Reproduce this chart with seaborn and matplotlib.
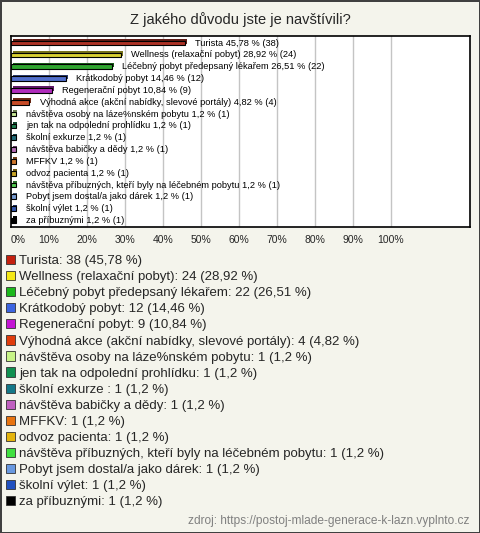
import pandas as pd
import seaborn as sns
import matplotlib.pyplot as plt
import matplotlib.patheffects as pe
from matplotlib.patches import Patch

# data
reasons = ["Turista", "Wellness (relaxační pobyt)", "Léčebný pobyt předepsaný lékařem",
           "Krátkodobý pobyt", "Regenerační pobyt",
           "Výhodná akce (akční nabídky, slevové portály)",
           "návštěva osoby na láze%nském pobytu", "jen tak na odpolední prohlídku",
           "školní exkurze ", "návštěva babičky a dědy", "MFFKV", "odvoz pacienta",
           "návštěva příbuzných, kteří byly na léčebném pobytu",
           "Pobyt jsem dostal/a jako dárek", "školní výlet", "za příbuznými"]
counts = [38, 24, 22, 12, 9, 4, 1, 1, 1, 1, 1, 1, 1, 1, 1, 1]
percents = [45.78, 28.92, 26.51, 14.46, 10.84, 4.82, 1.2, 1.2, 1.2, 1.2, 1.2, 1.2, 1.2, 1.2, 1.2, 1.2]
colors = ["#c4200f", "#f4e816", "#1cb81c", "#3c64e0", "#c414d4", "#e03c0c",
          "#c8f488", "#109050", "#147888", "#c060c0", "#e87410", "#e4b40c",
          "#40e040", "#6898e0", "#2050c0", "#000000"]
ticks = list(range(0, 101, 10))

def fmt(v):
    return ("%g" % v).replace(".", ",")

df = pd.DataFrame({"reason": reasons, "count": counts, "pct": percents})

sns.set_style("white")
plt.rcParams["font.family"] = ["Liberation Sans", "DejaVu Sans"]
bg = "#f4f4ec"

fig = plt.figure(figsize=(4.8, 5.33), dpi=100, facecolor=bg)
fig.patch.set_edgecolor("#404040")
fig.patch.set_linewidth(2)
ax = fig.add_axes([11 / 480, 1 - 227 / 533, 459 / 480, 191 / 533])
ax.set_facecolor("white")

sns.barplot(data=df, y="reason", x="pct", hue="reason", palette=colors,
            orient="h", width=0.4, edgecolor="black", linewidth=0.8,
            legend=False, dodge=False, ax=ax, zorder=3)

# fake 3D look: darker block behind each bar, shifted up-right
for bar in ax.patches:
    bar.set_path_effects([pe.SimplePatchShadow(offset=(1.3, 1.2), alpha=1, rho=0.55),
                          pe.Normal()])

for i, (r, c, p) in enumerate(zip(reasons, counts, percents)):
    ax.text(p + 2.7, i, "%s %s %% (%d)" % (r.rstrip(), fmt(p), c),
            va="center", ha="left", fontsize=6.7, color="black", zorder=4)

ax.set_xlim(0, 120.8)
ax.set_ylim(len(reasons) - 0.45, -0.6)
ax.set_xticks(ticks)
ax.set_xticklabels(["%d%%" % t for t in ticks], ha="center", fontsize=7.5)
ax.get_xticklabels()[0].set_horizontalalignment("left")
ax.tick_params(axis="x", length=0, pad=6)
ax.set_yticks([])
ax.set_xlabel("")
ax.set_ylabel("")
for t in ticks[1:]:
    ax.axvline(t, color="#c4c4c4", linewidth=1, zorder=1)
for s in ax.spines.values():
    s.set_color("black")
    s.set_linewidth(1.2)

fig.text(0.5, 1 - 20 / 533, "Z jakého důvodu jste je navštívili?",
         ha="center", va="center", fontsize=10.5)

handles = [Patch(facecolor=col, edgecolor="#333333", linewidth=0.6,
                 label="%s: %d (%s %%)" % (r.rstrip() if r.strip() != "školní exkurze" else r, c, fmt(p)))
           for r, c, p, col in zip(reasons, counts, percents, colors)]
fig.legend(handles=handles, loc="upper left", bbox_to_anchor=(6 / 480, 1 - 255 / 533),
           frameon=False, fontsize=9.5, handlelength=0.7, handleheight=0.7,
           handletextpad=0.3, labelspacing=0.29, borderpad=0, borderaxespad=0)

fig.text(470 / 480, 1 - 521 / 533, "zdroj: https://postoj-mlade-generace-k-lazn.vyplnto.cz",
         ha="right", va="center", fontsize=8.6, color="#808080")

fig.savefig("out.png", dpi=100, facecolor=bg)
